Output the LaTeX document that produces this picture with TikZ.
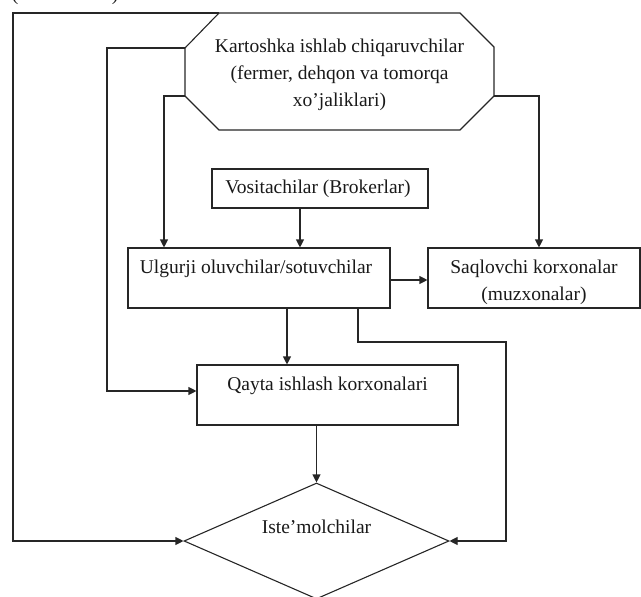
\documentclass[tikz,border=0pt]{standalone}
\usepackage{fontspec}
\setmainfont{Liberation Serif}
\usetikzlibrary{arrows.meta,shapes.geometric}
\begin{document}
\begin{tikzpicture}[x=1pt,y=-1pt,line width=1.1pt,
  ln/.style={draw=black!85},
  box/.style={draw=black!85,rectangle,inner sep=0pt},
  txt/.style={font=\fontsize{19.5}{27}\selectfont,align=center,inner sep=0pt,text=black!90},
  arr/.style={draw=black!85,-{Triangle[length=8pt,width=8pt]}}]
\useasboundingbox (0,0) rectangle (641,597);
% cut-off text at the top
\node[txt,anchor=base] (pl) at (15,1) {(};
\node[txt,anchor=base] (pr) at (115,1) {)};
% octagon
\coordinate (oTL) at (219,13);
\coordinate (oTR) at (460,13);
\coordinate (oRU) at (494,47);
\coordinate (oRL) at (494,96);
\coordinate (oBR) at (460,130);
\coordinate (oBL) at (219,130);
\coordinate (oLL) at (185,96);
\coordinate (oLU) at (185,48);
\draw[ln] (oTL) -- (oTR) -- (oRU) -- (oRL) -- (oBR) -- (oBL) -- (oLL) -- (oLU) -- cycle;
\node[txt,anchor=base] (prod) at (339.5,106) {Kartoshka ishlab chiqaruvchilar\\(fermer, dehqon va tomorqa\\xo’jaliklari)};
% boxes
\node[box,minimum width=216pt,minimum height=39pt] (vos) at (320,188.5) {};
\node[txt,anchor=base] (vost) at (318,193) {Vositachilar (Brokerlar)};
\node[box,minimum width=262pt,minimum height=60pt] (ulg) at (259,278) {};
\node[txt,anchor=base] (ulgt) at (256,273) {Ulgurji oluvchilar/sotuvchilar};
\node[box,minimum width=212pt,minimum height=60pt] (saq) at (534,278) {};
\node[txt,anchor=base] (saqt) at (534,300) {Saqlovchi korxonalar\\(muzxonalar)};
\node[box,minimum width=261pt,minimum height=60pt] (qay) at (327.5,395) {};
\node[txt,anchor=base] (qayt) at (327.5,390) {Qayta ishlash korxonalari};
\node[draw=black!85,diamond,minimum width=265pt,minimum height=116pt,inner sep=0pt] (dia) at (316.5,541) {};
\node[txt,anchor=base] (diat) at (316.5,533) {Iste’molchilar};
% connectors
\coordinate (c0) at (13,13);
\draw[arr] (oTL) -- (c0) |- (dia.west);
\coordinate (c1) at (107,48);
\coordinate (c1b) at (107,391);
\draw[arr] (oLU) -- (c1) -- (c1b) -- (c1b -| qay.west);
\coordinate (c2) at (164,96);
\draw[arr] (oLL) -- (c2) -- (c2 |- ulg.north);
\coordinate (c3) at (539,96);
\draw[arr] (oRL) -- (c3) -- (c3 |- saq.north);
\coordinate (c4) at (300,0);
\draw[arr] (vos.south -| c4) -- (ulg.north -| c4);
\coordinate (c5) at (390,280);
\draw[arr] (c5) -- (c5 -| saq.west);
\coordinate (c6) at (287,0);
\draw[arr] (ulg.south -| c6) -- (qay.north -| c6);
\coordinate (c7) at (358,342);
\coordinate (c8) at (506,342);
\draw[arr] (ulg.south -| c7) -- (c7) -- (c8) |- (dia.east);
\draw[arr] (qay.south -| dia.north) -- (dia.north);
\end{tikzpicture}
\end{document}
